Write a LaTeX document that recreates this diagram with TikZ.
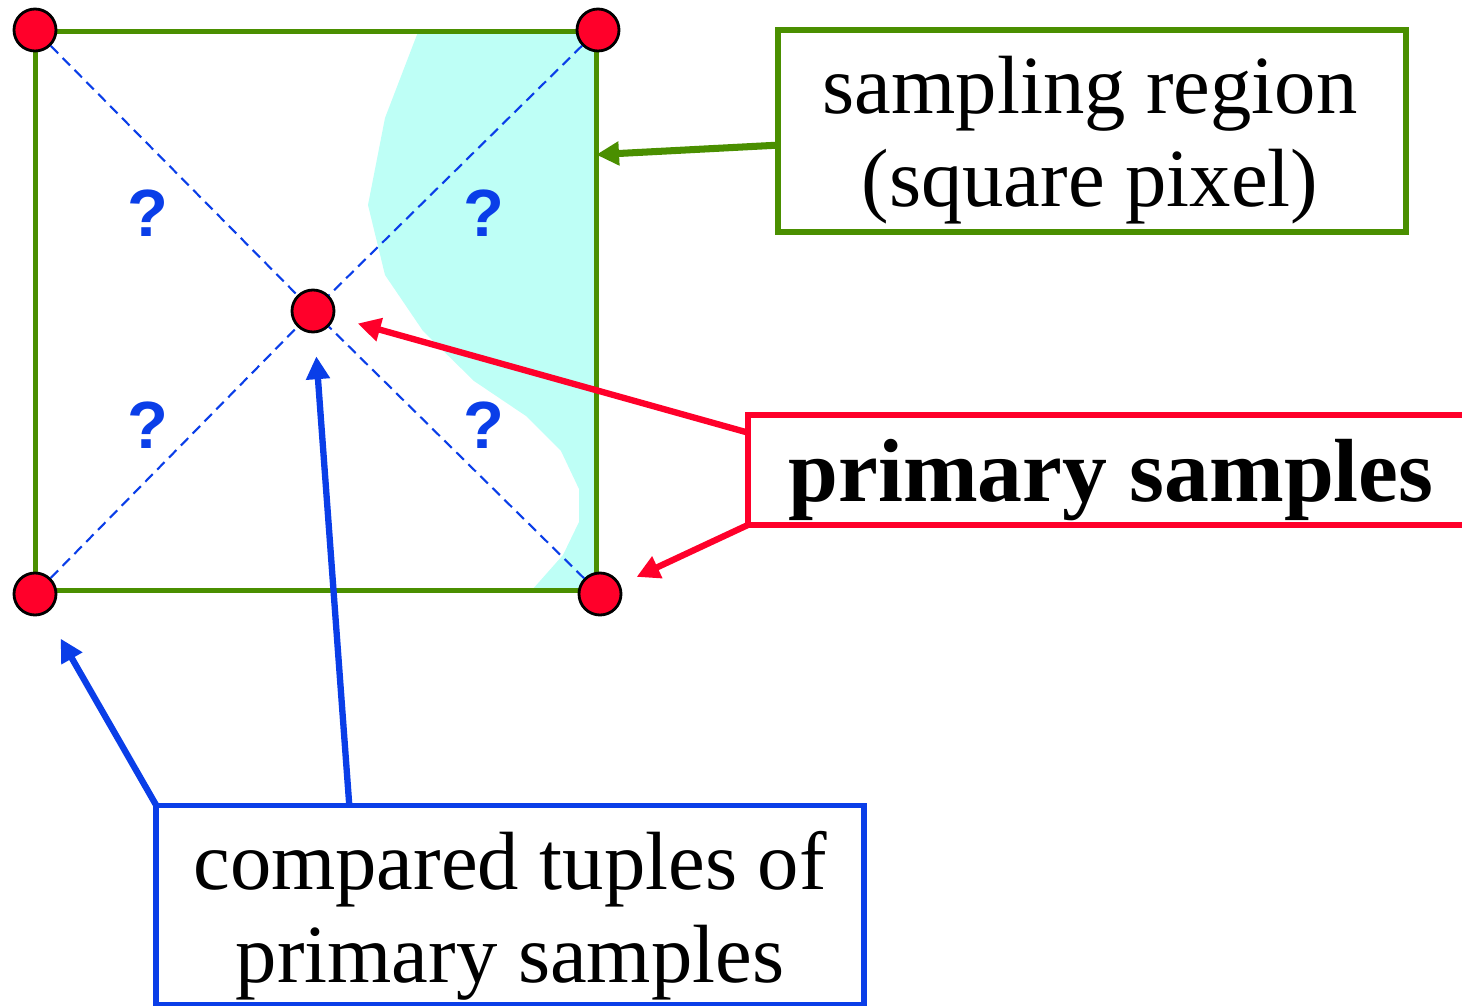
\documentclass[tikz,border=0pt]{standalone}
\usepackage{fontspec}
\setmainfont{Liberation Serif}
\newfontfamily\qfont{Liberation Sans}
\usetikzlibrary{positioning, arrows.meta, calc}
\definecolor{pixGreen}{RGB}{74,143,0}
\definecolor{smpRed}{RGB}{255,0,42}
\definecolor{tplBlue}{RGB}{10,62,232}
\definecolor{hitCyan}{RGB}{190,255,246}

\begin{document}
\begin{tikzpicture}[x=0.01cm, y=-0.01cm,
        smp/.style={circle, draw=black, line width=0.8pt, fill=smpRed, minimum size=0.42cm, inner sep=0pt},
        lbl/.style={rectangle, line width=1.6pt, fill=white, inner sep=0pt, outer sep=0pt},
        txt/.style={align=center, inner sep=0pt, font=\fontsize{23.5}{26.5}\selectfont},
        qm/.style={text=tplBlue, font=\qfont\bfseries\fontsize{19}{19}\selectfont},
        diag/.style={tplBlue, line width=0.6pt, dash pattern=on 3pt off 1.8pt},
        arr/.style={-{Triangle[length=6.5pt, width=6.5pt]}, line width=1.8pt}
    ]
    \useasboundingbox (0,0) rectangle (1462,1006);
    \clip (0,0) rectangle (1462,1006);

    % covered part of the pixel
    \fill[hitCyan] (418,32) -- (385,118) -- (368,205) -- (385,275) -- (423,331) -- (474,381)
        -- (526,416) -- (561,451) -- (579,489) -- (579,522) -- (563,555) -- (532,590)
        -- (596,590) -- (596,32) -- cycle;
    \node[draw=pixGreen, line width=1.4pt, minimum width=5.6cm, minimum height=5.58cm,
        inner sep=0pt, outer sep=0pt] (pix) at (316,311) {};

    \node[smp] (tl)  at (35,30)   {};
    \node[smp] (tr)  at (598,30)  {};
    \node[smp] (bl)  at (35,594)  {};
    \node[smp] (br)  at (600,594) {};
    \node[smp] (ctr) at (313,311) {};
    \foreach \c in {tl,tr,bl,br}
        \draw[diag] (\c) -- (ctr);

    \node[qm] (qtl) at (148,213) {?};
    \node[qm] (qtr) at (484,213) {?};
    \node[qm] (qbl) at (148,425) {?};
    \node[qm] (qbr) at (484,425) {?};

    % label boxes
    \node[lbl, draw=pixGreen, minimum width=6.28cm, minimum height=2.02cm] (region) at (1092,131) {};
    \node[txt] (regionTxt) at (1090,140) {sampling region\\(square pixel)};
    \node[lbl, draw=smpRed, minimum width=7.26cm, minimum height=1.1cm] (prim) at (1111,470) {};
    \node[txt, font=\bfseries\fontsize{25.5}{27}\selectfont] (primTxt) at (1111,480) {primary samples};
    \node[lbl, draw=tplBlue, minimum width=7.07cm, minimum height=1.99cm] (tuples) at (510,905) {};
    \node[txt] (tuplesTxt) at (510,916) {compared tuples of\\primary samples};

    % pointers
    \draw[arr, pixGreen, line width=2pt] ($(region.south west)!0.43!(region.north west)$)
        -- ($(pix.north east)!0.22!(pix.south east)$);
    \draw[arr, smpRed, shorten >=0.24cm] ($(prim.north west)!0.16!(prim.south west)$) -- (ctr);
    \draw[arr, smpRed, shorten >=0.18cm] (prim.south west) -- (br);
    \draw[arr, tplBlue, shorten >=0.29cm] (tuples.north west) -- (bl);
    \draw[arr, tplBlue, shorten >=0.23cm] ($(tuples.north west)+(193,0)$) -- (ctr);
\end{tikzpicture}
\end{document}
